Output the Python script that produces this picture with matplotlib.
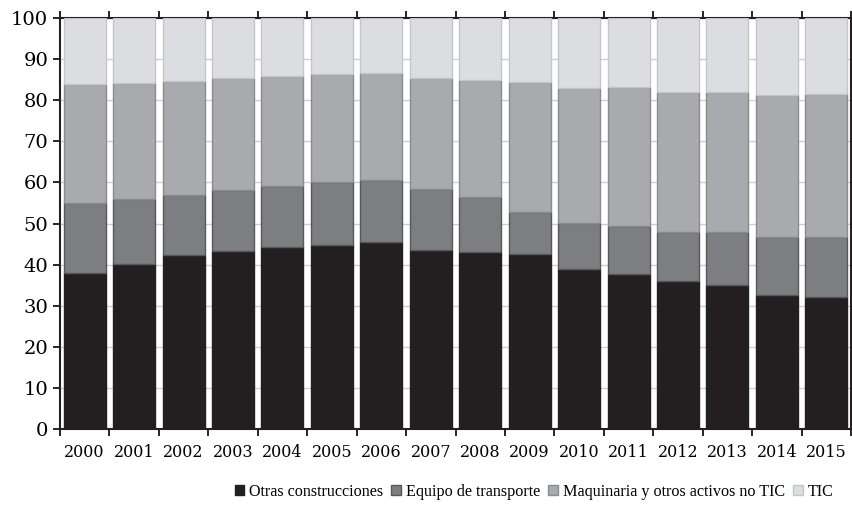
import numpy as np
import matplotlib.pyplot as plt
from matplotlib.patches import Patch

years = [str(y) for y in range(2000, 2016)]

# cumulative tops (percent)
otras = [37.9, 40.1, 42.3, 43.3, 44.3, 44.8, 45.6, 43.6, 43.1, 42.7, 38.9, 37.7, 36.0, 35.0, 32.5, 32.2]
equipo_top = [54.9, 56.0, 57.0, 58.2, 59.2, 60.0, 60.5, 58.3, 56.5, 52.9, 50.2, 49.4, 48.0, 48.0, 46.8, 46.8]
maq_top = [83.9, 84.3, 84.7, 85.3, 85.9, 86.5, 86.7, 85.5, 84.9, 84.4, 83.1, 83.2, 81.9, 81.9, 81.3, 81.4]

otras = np.array(otras)
equipo = np.array(equipo_top) - otras
maquinaria = np.array(maq_top) - np.array(equipo_top)
tic = 100 - np.array(maq_top)

labels = ["Otras construcciones", "Equipo de transporte",
          "Maquinaria y otros activos no TIC", "TIC"]
colors = ["#231f20", "#7d7e82", "#a9aaae", "#dcdde0"]
edges = ["#231f20", "#58585a", "#8a8b8e", "#c4c5c8"]

plt.rcParams['font.family'] = ['DejaVu Serif']

fig = plt.figure(figsize=(8.53, 5.16), dpi=100)
ax = fig.add_axes([0.0703, 0.1686, 0.9274, 0.7964])

x = np.arange(len(years))
bottom = np.zeros(len(years))
for vals, c, e in zip([otras, equipo, maquinaria, tic], colors, edges):
    ax.bar(x, vals, 0.85, bottom=bottom, color=c, edgecolor=e, linewidth=1, zorder=3)
    bottom = bottom + vals

ax.set_xlim(-0.5, len(years) - 0.5)
ax.set_ylim(0, 100)
ax.set_yticks(range(0, 101, 10))
ax.tick_params(axis='y', labelsize=14, length=5, width=1.2, direction='out')
ax.yaxis.grid(True, color='#cfcfcf', linewidth=1, zorder=0)

ax.set_xticks(x)
ax.set_xticklabels(years, fontsize=11.5)
ax.tick_params(axis='x', which='major', length=0, pad=11)
ax.set_xticks(np.arange(-0.5, len(years)), minor=True)
ax.tick_params(axis='x', which='minor', length=5, width=1.2, top=True, bottom=True)

for s in ax.spines.values():
    s.set_color('#231f20')
    s.set_linewidth(1.5)
    s.set_zorder(2)

handles = [Patch(facecolor=c, edgecolor=e, label=l) for c, e, l in zip(colors, edges, labels)]
fig.legend(handles=handles, loc='center', bbox_to_anchor=(0.626, 0.047), ncol=4, frameon=False,
           prop={'family': 'Liberation Serif', 'size': 11.6}, handlelength=0.6, handleheight=0.6,
           handletextpad=0.3, columnspacing=0.5)

plt.savefig("out.png", dpi=100)
